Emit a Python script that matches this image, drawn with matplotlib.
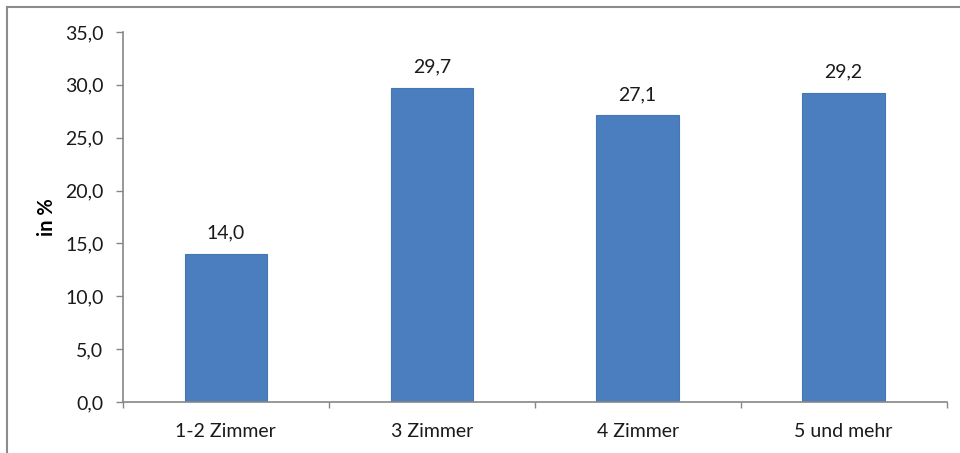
import matplotlib
matplotlib.use("Agg")
import matplotlib.pyplot as plt
from matplotlib.lines import Line2D

categories = ["1-2 Zimmer", "3 Zimmer", "4 Zimmer", "5 und mehr"]
values = [14.0, 29.7, 27.1, 29.2]
y_ticks = [0, 5, 10, 15, 20, 25, 30, 35]

plt.rcParams["font.family"] = ["Lato", "DejaVu Sans"]

fig = plt.figure(figsize=(9.6, 4.53), dpi=100)
fig.patch.set_facecolor("white")
ax = fig.add_axes([0.128, 0.1126, 0.858, 0.8168])

x = list(range(len(categories)))
bars = ax.bar(x, values, width=0.4, color="#4A7EBF", edgecolor="#4677B5", linewidth=0.8, zorder=2)

for xi, v in zip(x, values):
    ax.annotate(f"{v:.1f}".replace(".", ","), (xi, v), xytext=(0, 9), textcoords="offset points",
                ha="center", va="bottom", fontsize=14, color="#1a1a1a")

ax.set_xlim(-0.5, len(categories) - 0.5)
ax.set_ylim(0, 35)
ax.set_yticks(y_ticks)
ax.set_yticklabels([f"{t:.1f}".replace(".", ",") for t in y_ticks], fontsize=14, color="#1a1a1a")
ax.set_xticks(x)
ax.set_xticklabels(categories, fontsize=14, color="#1a1a1a")
ax.tick_params(axis="x", length=0, pad=15)
ax.tick_params(axis="y", length=5, color="#868686", width=1, pad=9)
ax.set_xticks([i + 0.5 for i in range(-1, len(categories))], minor=True)
ax.tick_params(axis="x", which="minor", length=4, color="#868686", width=1)

for s in ["top", "right"]:
    ax.spines[s].set_visible(False)
for s in ["left", "bottom"]:
    ax.spines[s].set_color("#868686")
    ax.spines[s].set_linewidth(1.2)

ax.set_ylabel("in %", fontsize=14.5, fontweight="bold")
ax.yaxis.set_label_coords(-0.08, 0.5)

# frame lines along the top and left edges of the figure
fig.add_artist(Line2D([7 / 960, 1.0], [1 - 7 / 453, 1 - 7 / 453], transform=fig.transFigure,
                      color="#8c8c8c", linewidth=1.5))
fig.add_artist(Line2D([7 / 960, 7 / 960], [0.0, 1 - 7 / 453], transform=fig.transFigure,
                      color="#8c8c8c", linewidth=1.5))

fig.savefig("out.png", dpi=100, facecolor="white")
